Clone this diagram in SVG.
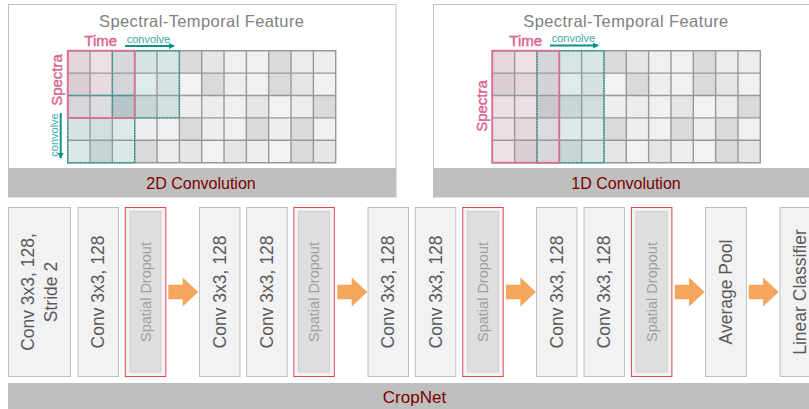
<svg xmlns="http://www.w3.org/2000/svg" xmlns:xlink="http://www.w3.org/1999/xlink" width="809" height="409" viewBox="0 0 809 409">
<style>
.panel{fill:#ffffff;stroke:#bfbfbf;stroke-width:1}
.bar{fill:#bfbfbf}
.title{font-family:"Liberation Sans",Arial,sans-serif;font-size:16.5px;fill:#808080}
.cap{font-family:"Liberation Sans",Arial,sans-serif;font-size:16px;fill:#7b0000;text-anchor:middle}
.pinkt{font-family:"Liberation Sans",Arial,sans-serif;font-size:15px;fill:#d9628c;stroke:#d9628c;stroke-width:0.4}
.tealt{font-family:"Liberation Sans",Arial,sans-serif;font-size:11px;fill:#3aaaa5}
.gl{fill:none;stroke:#989898;stroke-width:1.4}
.pink{fill:none;stroke:#d87093;stroke-width:1.8}
.teal{fill:none;stroke:#1f9a93;stroke-width:1.4;stroke-dasharray:1.6 1}
.carr{stroke:#139089;stroke-width:2;fill:none}
.box{fill:#f2f2f2;stroke:#bfbfbf;stroke-width:1}
.drop{fill:#f2f2f2;stroke:#d94a4a;stroke-width:1}
.dropin{fill:#dedede;stroke:#cfcfcf;stroke-width:1}
.bt{font-family:"Liberation Sans",Arial,sans-serif;font-size:17.5px;fill:#595959;text-anchor:middle}
.dt{font-family:"Liberation Sans",Arial,sans-serif;font-size:14.5px;fill:#a0a0a0;text-anchor:middle}
.arrow{fill:#f5a55c}
</style>
<defs>
<marker id="ah" viewBox="0 0 6 6" refX="5" refY="3" markerWidth="3" markerHeight="3" orient="auto" markerUnits="strokeWidth">
<path d="M0,0 L6,3 L0,6 Z" fill="#139089"/>
</marker>
<path id="arr" d="M0,-7.2 H14.4 V-14.4 L30,0 L14.4,14.4 V7.2 H0 Z"/>
<g id="rest">
<rect x="111.67" y="0" width="22.33" height="22.4" fill="#dadada"/>
<rect x="134" y="0" width="22.33" height="22.4" fill="#e6e6e6"/>
<rect x="156.33" y="0" width="22.34" height="22.4" fill="#f0f0f0"/>
<rect x="178.67" y="0" width="22.33" height="22.4" fill="#f0f0f0"/>
<rect x="201" y="0" width="22.33" height="22.4" fill="#dadada"/>
<rect x="223.33" y="0" width="22.34" height="22.4" fill="#ececec"/>
<rect x="245.67" y="0" width="22.33" height="22.4" fill="#ededed"/>
<rect x="111.67" y="22.4" width="22.33" height="22.4" fill="#f2f2f2"/>
<rect x="134" y="22.4" width="22.33" height="22.4" fill="#dadada"/>
<rect x="156.33" y="22.4" width="22.34" height="22.4" fill="#ededed"/>
<rect x="178.67" y="22.4" width="22.33" height="22.4" fill="#f0f0f0"/>
<rect x="201" y="22.4" width="22.33" height="22.4" fill="#dadada"/>
<rect x="223.33" y="22.4" width="22.34" height="22.4" fill="#e5e5e5"/>
<rect x="245.67" y="22.4" width="22.33" height="22.4" fill="#f0f0f0"/>
<rect x="111.67" y="44.8" width="22.33" height="22.4" fill="#eeeeee"/>
<rect x="134" y="44.8" width="22.33" height="22.4" fill="#ececec"/>
<rect x="156.33" y="44.8" width="22.34" height="22.4" fill="#f0f0f0"/>
<rect x="178.67" y="44.8" width="22.33" height="22.4" fill="#e5e5e5"/>
<rect x="201" y="44.8" width="22.33" height="22.4" fill="#f2f2f2"/>
<rect x="223.33" y="44.8" width="22.34" height="22.4" fill="#ededed"/>
<rect x="245.67" y="44.8" width="22.33" height="22.4" fill="#dadada"/>
<rect x="111.67" y="67.2" width="22.33" height="22.4" fill="#dadada"/>
<rect x="134" y="67.2" width="22.33" height="22.4" fill="#eeeeee"/>
<rect x="156.33" y="67.2" width="22.34" height="22.4" fill="#f0f0f0"/>
<rect x="178.67" y="67.2" width="22.33" height="22.4" fill="#dadada"/>
<rect x="201" y="67.2" width="22.33" height="22.4" fill="#eeeeee"/>
<rect x="223.33" y="67.2" width="22.34" height="22.4" fill="#dadada"/>
<rect x="245.67" y="67.2" width="22.33" height="22.4" fill="#f0f0f0"/>
<rect x="111.67" y="89.6" width="22.33" height="22.4" fill="#e5e5e5"/>
<rect x="134" y="89.6" width="22.33" height="22.4" fill="#f2f2f2"/>
<rect x="156.33" y="89.6" width="22.34" height="22.4" fill="#e5e5e5"/>
<rect x="178.67" y="89.6" width="22.33" height="22.4" fill="#eeeeee"/>
<rect x="201" y="89.6" width="22.33" height="22.4" fill="#f2f2f2"/>
<rect x="223.33" y="89.6" width="22.34" height="22.4" fill="#dadada"/>
<rect x="245.67" y="89.6" width="22.33" height="22.4" fill="#e5e5e5"/>
</g>
<path id="lines" class="gl" d="M0,0 H268 V112 H0 Z M22.33,0 V112 M44.67,0 V112 M67,0 V112 M89.33,0 V112 M111.67,0 V112 M134,0 V112 M156.33,0 V112 M178.67,0 V112 M201,0 V112 M223.33,0 V112 M245.67,0 V112 M0,22.4 H268 M0,44.8 H268 M0,67.2 H268 M0,89.6 H268"/>
</defs>

<g id="panel-2d">
<rect class="panel" x="8.5" y="4.5" width="387.5" height="164"/>
<rect class="bar" x="8" y="168.5" width="388.5" height="29"/>
<text class="title" x="99" y="26.5" textLength="205" lengthAdjust="spacing">Spectral-Temporal  Feature</text>
<text class="cap" x="201" y="188.5">2D Convolution</text>
<g transform="translate(67.7,50.7)">
<rect x="0" y="0" width="22.33" height="22.4" fill="#e3d5da"/>
<rect x="22.33" y="0" width="22.34" height="22.4" fill="#ece0e4"/>
<rect x="44.67" y="0" width="22.33" height="22.4" fill="#d7d8dc"/>
<rect x="67" y="0" width="22.33" height="22.4" fill="#d5e4e3"/>
<rect x="89.33" y="0" width="22.34" height="22.4" fill="#d6e6e5"/>
<rect x="0" y="22.4" width="22.33" height="22.4" fill="#dccdd2"/>
<rect x="22.33" y="22.4" width="22.34" height="22.4" fill="#e8dadf"/>
<rect x="44.67" y="22.4" width="22.33" height="22.4" fill="#d3d5d9"/>
<rect x="67" y="22.4" width="22.33" height="22.4" fill="#ddeceb"/>
<rect x="89.33" y="22.4" width="22.34" height="22.4" fill="#d5e4e3"/>
<rect x="0" y="44.8" width="22.33" height="22.4" fill="#d6d6dc"/>
<rect x="22.33" y="44.8" width="22.34" height="22.4" fill="#dcdce2"/>
<rect x="44.67" y="44.8" width="22.33" height="22.4" fill="#b9c5c8"/>
<rect x="67" y="44.8" width="22.33" height="22.4" fill="#c7d7d6"/>
<rect x="89.33" y="44.8" width="22.34" height="22.4" fill="#d2e1e0"/>
<rect x="0" y="67.2" width="22.33" height="22.4" fill="#d4e4e2"/>
<rect x="22.33" y="67.2" width="22.34" height="22.4" fill="#d0e0de"/>
<rect x="44.67" y="67.2" width="22.33" height="22.4" fill="#dbeae9"/>
<rect x="67" y="67.2" width="22.33" height="22.4" fill="#eeeeee"/>
<rect x="89.33" y="67.2" width="22.34" height="22.4" fill="#f0f0f0"/>
<rect x="0" y="89.6" width="22.33" height="22.4" fill="#d8e8e6"/>
<rect x="22.33" y="89.6" width="22.34" height="22.4" fill="#c5d5d3"/>
<rect x="44.67" y="89.6" width="22.33" height="22.4" fill="#d9e8e7"/>
<rect x="67" y="89.6" width="22.33" height="22.4" fill="#dadada"/>
<rect x="89.33" y="89.6" width="22.34" height="22.4" fill="#ececec"/>
<use xlink:href="#rest"/>
<use xlink:href="#lines"/>
<rect class="teal" x="44.67" y="0" width="67" height="67.2"/>
<rect class="teal" x="0" y="44.8" width="67" height="67.2"/>
<rect class="pink" x="0" y="0" width="67" height="67.2"/>
</g>
<text class="pinkt" x="84.3" y="46">Time</text>
<text class="tealt" x="126.7" y="42.5">convolve</text>
<text class="pinkt" x="62" y="80" text-anchor="middle" transform="rotate(-90 62 80)">Spectra</text>
<text class="tealt" x="58" y="135" text-anchor="middle" transform="rotate(-90 58 135)">convolve</text>
</g>

<g id="panel-1d">
<rect class="panel" x="433.5" y="4.5" width="380" height="164"/>
<rect class="bar" x="433" y="168.5" width="376" height="29"/>
<text class="title" x="523.3" y="26.5" textLength="205" lengthAdjust="spacing">Spectral-Temporal  Feature</text>
<text class="cap" x="626" y="188.5">1D Convolution</text>
<g transform="translate(492.3,50.7)">
<rect x="0" y="0" width="22.33" height="22.4" fill="#e3d7dc"/>
<rect x="22.33" y="0" width="22.34" height="22.4" fill="#ede1e5"/>
<rect x="44.67" y="0" width="22.33" height="22.4" fill="#d5d6db"/>
<rect x="67" y="0" width="22.33" height="22.4" fill="#d5e5e3"/>
<rect x="89.33" y="0" width="22.34" height="22.4" fill="#d7e6e5"/>
<rect x="0" y="22.4" width="22.33" height="22.4" fill="#dcced3"/>
<rect x="22.33" y="22.4" width="22.34" height="22.4" fill="#e4d6db"/>
<rect x="44.67" y="22.4" width="22.33" height="22.4" fill="#d2d3d8"/>
<rect x="67" y="22.4" width="22.33" height="22.4" fill="#ddecea"/>
<rect x="89.33" y="22.4" width="22.34" height="22.4" fill="#d3e2e1"/>
<rect x="0" y="44.8" width="22.33" height="22.4" fill="#ecdfe4"/>
<rect x="22.33" y="44.8" width="22.34" height="22.4" fill="#ecdfe4"/>
<rect x="44.67" y="44.8" width="22.33" height="22.4" fill="#c8c9cd"/>
<rect x="67" y="44.8" width="22.33" height="22.4" fill="#c8d8d6"/>
<rect x="89.33" y="44.8" width="22.34" height="22.4" fill="#d0dfde"/>
<rect x="0" y="67.2" width="22.33" height="22.4" fill="#ecdfe4"/>
<rect x="22.33" y="67.2" width="22.34" height="22.4" fill="#e4d6db"/>
<rect x="44.67" y="67.2" width="22.33" height="22.4" fill="#dadbe0"/>
<rect x="67" y="67.2" width="22.33" height="22.4" fill="#dcebe9"/>
<rect x="89.33" y="67.2" width="22.34" height="22.4" fill="#dcebea"/>
<rect x="0" y="89.6" width="22.33" height="22.4" fill="#ede3e7"/>
<rect x="22.33" y="89.6" width="22.34" height="22.4" fill="#dccfd3"/>
<rect x="44.67" y="89.6" width="22.33" height="22.4" fill="#d7d8dc"/>
<rect x="67" y="89.6" width="22.33" height="22.4" fill="#c7d7d5"/>
<rect x="89.33" y="89.6" width="22.34" height="22.4" fill="#d7e6e5"/>
<use xlink:href="#rest"/>
<use xlink:href="#lines"/>
<rect class="teal" x="44.67" y="0" width="67" height="112"/>
<rect class="pink" x="0" y="0" width="67" height="112"/>
</g>
<text class="pinkt" x="509.3" y="46">Time</text>
<text class="tealt" x="551.7" y="42">convolve</text>
<text class="pinkt" x="486.5" y="106" text-anchor="middle" transform="rotate(-90 486.5 106)">Spectra</text>
</g>

<g id="connectors">
<line class="carr" x1="125" y1="46" x2="174" y2="46" marker-end="url(#ah)"/>
<line class="carr" x1="60.7" y1="113" x2="60.7" y2="158" marker-end="url(#ah)"/>
<line class="carr" x1="550" y1="45.5" x2="598" y2="45.5" marker-end="url(#ah)"/>
<use class="arrow" xlink:href="#arr" x="168.3" y="292"/>
<use class="arrow" xlink:href="#arr" x="337.3" y="292"/>
<use class="arrow" xlink:href="#arr" x="506" y="292"/>
<use class="arrow" xlink:href="#arr" x="674.7" y="292"/>
<use class="arrow" xlink:href="#arr" x="748.7" y="292"/>
</g>

<g id="conv1">
<rect class="box" x="8.5" y="207.5" width="62" height="169"/>
<text class="bt" transform="rotate(-90 39.4 292)" x="39.4" y="286.6">Conv 3x3, 128,</text>
<text class="bt" transform="rotate(-90 39.4 292)" x="39.4" y="309.6">Stride 2</text>
</g>
<g id="conv2">
<rect class="box" x="78" y="207.5" width="40.5" height="169"/>
<text class="bt" transform="rotate(-90 98.2 292)" x="98.2" y="298.2">Conv 3x3, 128</text>
</g>
<g id="drop1">
<rect class="drop" x="125.3" y="207.5" width="40.5" height="169"/>
<rect class="dropin" x="130" y="211.5" width="31" height="160.5"/>
<text class="dt" transform="rotate(-90 145.5 292)" x="145.5" y="297">Spatial Dropout</text>
</g>
<g id="conv3">
<rect class="box" x="199.5" y="207.5" width="40.5" height="169"/>
<text class="bt" transform="rotate(-90 219.7 292)" x="219.7" y="298.2">Conv 3x3, 128</text>
</g>
<g id="conv4">
<rect class="box" x="246.7" y="207.5" width="40.5" height="169"/>
<text class="bt" transform="rotate(-90 266.9 292)" x="266.9" y="298.2">Conv 3x3, 128</text>
</g>
<g id="drop2">
<rect class="drop" x="293.8" y="207.5" width="40.5" height="169"/>
<rect class="dropin" x="298.5" y="211.5" width="31" height="160.5"/>
<text class="dt" transform="rotate(-90 314 292)" x="314" y="297">Spatial Dropout</text>
</g>
<g id="conv5">
<rect class="box" x="368" y="207.5" width="40.5" height="169"/>
<text class="bt" transform="rotate(-90 388.2 292)" x="388.2" y="298.2">Conv 3x3, 128</text>
</g>
<g id="conv6">
<rect class="box" x="415.3" y="207.5" width="40.5" height="169"/>
<text class="bt" transform="rotate(-90 435.5 292)" x="435.5" y="298.2">Conv 3x3, 128</text>
</g>
<g id="drop3">
<rect class="drop" x="462.7" y="207.5" width="40.5" height="169"/>
<rect class="dropin" x="467.4" y="211.5" width="31" height="160.5"/>
<text class="dt" transform="rotate(-90 482.9 292)" x="482.9" y="297">Spatial Dropout</text>
</g>
<g id="conv7">
<rect class="box" x="536.5" y="207.5" width="40.5" height="169"/>
<text class="bt" transform="rotate(-90 556.7 292)" x="556.7" y="298.2">Conv 3x3, 128</text>
</g>
<g id="conv8">
<rect class="box" x="584" y="207.5" width="40.5" height="169"/>
<text class="bt" transform="rotate(-90 604.2 292)" x="604.2" y="298.2">Conv 3x3, 128</text>
</g>
<g id="drop4">
<rect class="drop" x="631.4" y="207.5" width="40.5" height="169"/>
<rect class="dropin" x="636.1" y="211.5" width="31" height="160.5"/>
<text class="dt" transform="rotate(-90 651.6 292)" x="651.6" y="297">Spatial Dropout</text>
</g>
<g id="avgpool">
<rect class="box" x="705.5" y="207.5" width="41" height="169"/>
<text class="bt" transform="rotate(-90 726 292)" x="726" y="298.2">Average Pool</text>
</g>
<g id="classifier">
<rect class="box" x="780" y="207.5" width="40.5" height="169"/>
<text class="bt" transform="rotate(-90 800.2 292)" x="800.2" y="298.2">Linear Classifier</text>
</g>
<g id="cropnet">
<rect class="bar" x="8" y="383" width="801" height="26"/>
<text class="cap" x="414.5" y="402.5" style="font-size:17px">CropNet</text>
</g>
</svg>
